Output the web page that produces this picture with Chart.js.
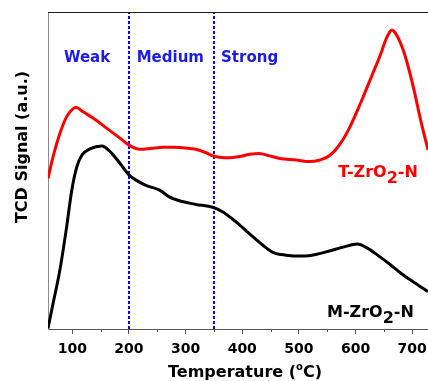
<!DOCTYPE html>
<html>
<head>
<meta charset="utf-8">
<title>TPD profiles</title>
<script src="https://cdn.jsdelivr.net/npm/chart.js@4.4.1/dist/chart.umd.min.js"></script>
<style>
    html, body { margin: 0; padding: 0; background: #fff; }
    canvas { display: block; }
</style>
</head>
<body>
<canvas id="tpd-chart" width="428" height="381"></canvas>
<script>
// T-ZrO2-N profile (temperature in °C, signal in a.u.)
const tTemps = [57, 66, 78, 90, 102, 107, 119, 137, 161, 184, 200, 219, 240, 260, 280, 300, 318, 336, 348, 363, 377, 395, 413, 430, 448, 466, 495, 519, 537, 555, 574, 590, 609, 630, 645, 650, 655, 660, 664, 668, 673, 680, 687, 702, 715, 728];
const tSignal = [47.5, 54.4, 61.7, 67.0, 69.6, 69.9, 68.5, 66.5, 63.3, 60.2, 58.0, 56.7, 57.0, 57.3, 57.3, 57.1, 56.7, 55.6, 54.6, 54.1, 54.0, 54.4, 55.1, 55.4, 54.6, 53.8, 53.3, 52.8, 53.3, 54.8, 58.7, 63.7, 71.3, 80.4, 87.0, 89.6, 91.9, 93.6, 94.3, 93.9, 92.6, 90.0, 86.5, 76.4, 65.9, 56.5];

// M-ZrO2-N profile
const mTemps = [57, 66, 78, 90, 99, 108, 117, 131, 152, 167, 184, 200, 214, 230, 254, 271, 294, 318, 348, 365, 389, 412, 436, 454, 477, 507, 530, 550, 580, 603, 621, 639, 660, 680, 705, 728];
const mSignal = [0.2, 8.1, 18.6, 32.3, 43.8, 51.2, 54.9, 56.8, 57.7, 55.9, 52.3, 48.6, 46.8, 45.3, 43.8, 41.7, 40.2, 39.3, 38.4, 37.0, 33.8, 30.2, 26.5, 24.2, 23.3, 23.0, 23.5, 24.4, 25.9, 26.8, 25.5, 23.3, 20.5, 17.6, 14.5, 11.8];

// acid site strength boundaries and region names
const boundaryTemps = [200, 350];
const zoneNames = ['Weak', 'Medium', 'Strong'];
const seriesNames = ['T-ZrO2-N', 'M-ZrO2-N'];
const xTicks = [100, 150, 200, 250, 300, 350, 400, 450, 500, 550, 600, 650, 700];

const FONT = '"DejaVu Sans", Verdana, sans-serif';

function toPoints(xs, ys) {
    return xs.map((x, i) => ({ x: x, y: ys[i] }));
}

// draw a row of text pieces, each with its own font and vertical shift
function drawRuns(ctx, runs, x, y, align) {
    let total = 0;
    runs.forEach(r => {
        ctx.font = r.font;
        r.w = ctx.measureText(r.text).width;
        total += r.w;
    });
    let cx = x;
    if (align === 'right') cx = x - total;
    if (align === 'center') cx = x - total / 2;
    ctx.textAlign = 'left';
    runs.forEach(r => {
        ctx.font = r.font;
        ctx.fillText(r.text, cx, y + r.dy);
        cx += r.w;
    });
}

// chemical formula: digits become subscripts
function formulaRuns(name, size) {
    return name.split(/(\d+)/).filter(s => s.length).map(s => ({
        text: s,
        font: 'bold ' + size + 'px ' + FONT,
        dy: /^\d+$/.test(s) ? 6 : 0
    }));
}

const annotations = {
    id: 'annotations',
    afterDatasetsDraw(chart) {
        const { ctx, chartArea, scales: { x, y } } = chart;
        ctx.save();

        // top frame line
        ctx.strokeStyle = '#222';
        ctx.lineWidth = 1;
        ctx.beginPath();
        ctx.moveTo(chartArea.left, chartArea.top + 0.5);
        ctx.lineTo(chartArea.right, chartArea.top + 0.5);
        ctx.stroke();

        // short minor ticks
        ctx.strokeStyle = '#555';
        xTicks.filter(v => v % 100 !== 0).forEach(v => {
            const px = Math.round(x.getPixelForValue(v)) + 0.5;
            ctx.beginPath();
            ctx.moveTo(px, chartArea.bottom);
            ctx.lineTo(px, chartArea.bottom + 3);
            ctx.stroke();
        });

        // region names
        ctx.fillStyle = '#1c1ce6';
        ctx.textBaseline = 'alphabetic';
        const zoneCenters = [126, 273, 413];
        zoneNames.forEach((name, i) => {
            drawRuns(ctx, [{ text: name, font: 'bold 15px ' + FONT, dy: 0 }],
                x.getPixelForValue(zoneCenters[i]), 62, 'center');
        });

        // series names
        ctx.fillStyle = '#ff0000';
        drawRuns(ctx, formulaRuns(seriesNames[0], 16), x.getPixelForValue(710), y.getPixelForValue(47.9), 'right');
        ctx.fillStyle = '#000';
        drawRuns(ctx, formulaRuns(seriesNames[1], 16), x.getPixelForValue(703), y.getPixelForValue(3.8), 'right');

        // x axis title with superscript degree
        ctx.fillStyle = '#000';
        drawRuns(ctx, [
            { text: 'Temperature (', font: 'bold 16px ' + FONT, dy: 0 },
            { text: 'o', font: 'bold 10px ' + FONT, dy: -7 },
            { text: 'C)', font: 'bold 16px ' + FONT, dy: 0 }
        ], 245, 377, 'center');

        // y axis title
        ctx.translate(27, 147);
        ctx.rotate(-Math.PI / 2);
        drawRuns(ctx, [{ text: 'TCD Signal (a.u.)', font: 'bold 16px ' + FONT, dy: 0 }], 0, 0, 'center');

        ctx.restore();
    }
};

const datasets = [
    {
        label: seriesNames[1],
        data: toPoints(mTemps, mSignal),
        borderColor: '#000',
        borderWidth: 3,
        cubicInterpolationMode: 'monotone',
        pointRadius: 0
    },
    {
        label: seriesNames[0],
        data: toPoints(tTemps, tSignal),
        borderColor: '#ff0000',
        borderWidth: 3,
        cubicInterpolationMode: 'monotone',
        pointRadius: 0
    }
];

// dashed vertical boundaries
boundaryTemps.forEach(t => {
    datasets.push({
        data: [{ x: t, y: 0 }, { x: t, y: 100 }],
        borderColor: '#0000ff',
        borderWidth: 2,
        borderDash: [3, 2],
        pointRadius: 0
    });
});

Chart.defaults.font.family = FONT;

new Chart(document.getElementById('tpd-chart'), {
    type: 'line',
    data: { datasets: datasets },
    options: {
        responsive: false,
        animation: false,
        layout: { padding: { top: 12, right: 0, bottom: 0, left: 0 } },
        plugins: {
            legend: { display: false },
            tooltip: { enabled: false }
        },
        scales: {
            x: {
                type: 'linear',
                min: 57,
                max: 728,
                afterBuildTicks: scale => {
                    scale.ticks = xTicks.map(v => ({ value: v }));
                },
                afterFit: scale => {
                    scale.height = 52;
                    // the axis runs right up to the canvas edge
                    scale.paddingLeft = 0;
                    scale.paddingRight = 0;
                },
                ticks: {
                    autoSkip: false,
                    maxRotation: 0,
                    padding: 7,
                    color: '#000',
                    font: { size: 14, weight: 'bold' },
                    callback: v => (v % 100 === 0 ? v : '')
                },
                grid: {
                    drawOnChartArea: false,
                    drawTicks: true,
                    tickLength: 5,
                    tickColor: c => (c.tick && c.tick.value % 100 === 0 ? '#555' : 'rgba(0,0,0,0)')
                },
                border: { display: true, color: '#555', width: 1 }
            },
            y: {
                min: 0,
                max: 100,
                afterFit: scale => { scale.width = 48; },
                ticks: { display: false },
                grid: { display: false },
                border: { display: true, color: '#8c8c8c', width: 1 }
            }
        }
    },
    plugins: [annotations]
});
</script>
</body>
</html>
